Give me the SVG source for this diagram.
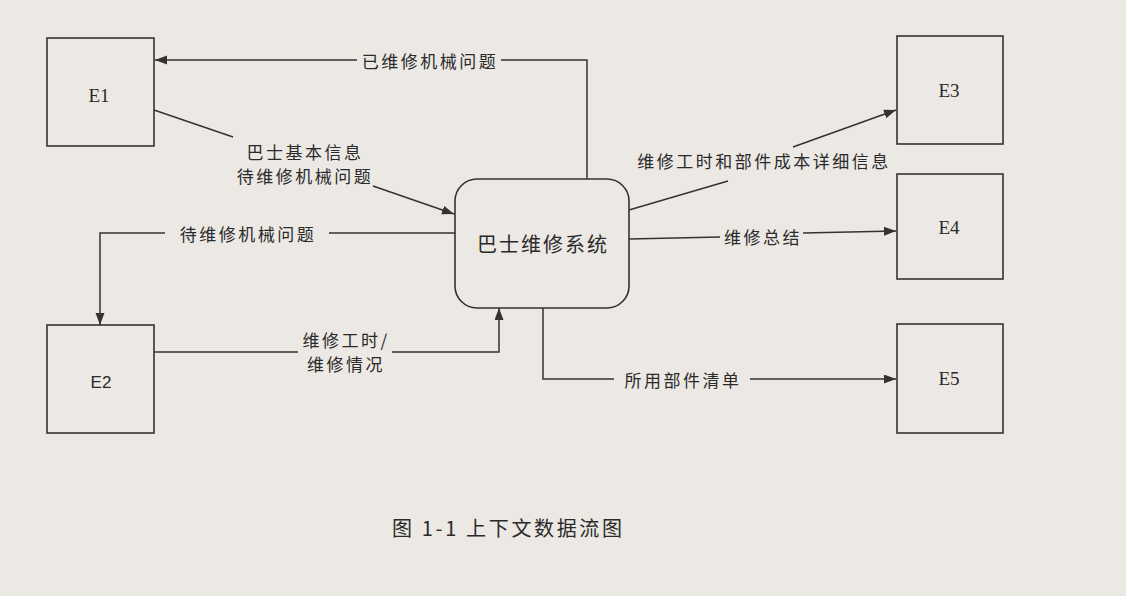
<svg xmlns="http://www.w3.org/2000/svg" width="1126" height="596" viewBox="0 0 1126 596">
  <style>
    .box { fill: none; stroke: #333; stroke-width: 1.6; }
    .conn { fill: none; stroke: #333; stroke-width: 1.5; }
    .lbl { font-family: "Noto Sans CJK SC", "Liberation Sans", sans-serif; font-size: 17px; fill: #2a2a2a; text-anchor: middle; letter-spacing: 2.5px; dominant-baseline: central; }
    .ent { font-family: "Liberation Serif", serif; font-size: 19px; fill: #2a2a2a; text-anchor: middle; dominant-baseline: central; }
    .ents { font-family: "Liberation Sans", sans-serif; font-size: 17px; fill: #2a2a2a; text-anchor: middle; dominant-baseline: central; }
    .proc { font-family: "Noto Sans CJK SC", "Liberation Sans", sans-serif; font-size: 20px; fill: #2a2a2a; text-anchor: middle; letter-spacing: 2px; dominant-baseline: central; }
    .cap { font-family: "Noto Sans CJK SC", "Liberation Serif", serif; font-size: 20px; fill: #2a2a2a; text-anchor: middle; dominant-baseline: central; }
  </style>
  <defs>
    <marker id="arr" markerUnits="userSpaceOnUse" markerWidth="13" markerHeight="10" refX="12" refY="4.5" orient="auto">
      <path d="M0,0 L12,4.5 L0,9 z" fill="#333"/>
    </marker>
  </defs>
  <rect x="0" y="0" width="1126" height="596" fill="#ece8e4"/>

  <g id="E1">
    <rect class="box" x="47" y="38" width="107" height="108"/>
    <text class="ent" x="99" y="95">E1</text>
  </g>
  <g id="E2">
    <rect class="box" x="47" y="325" width="107" height="108"/>
    <text class="ents" x="101" y="382">E2</text>
  </g>
  <g id="E3">
    <rect class="box" x="897" y="36" width="106" height="108"/>
    <text class="ent" x="949" y="90">E3</text>
  </g>
  <g id="E4">
    <rect class="box" x="897" y="174" width="106" height="105"/>
    <text class="ent" x="949" y="227">E4</text>
  </g>
  <g id="E5">
    <rect class="box" x="897" y="324" width="106" height="109"/>
    <text class="ent" x="949" y="378">E5</text>
  </g>
  <g id="P0">
    <rect class="box" x="455" y="179" width="174" height="129" rx="22" ry="22"/>
    <text class="proc" x="543" y="243">巴士维修系统</text>
  </g>

  <g id="connectors">
    <path class="conn" d="M587,179 V60 H501"/>
    <path class="conn" d="M357,60 H155" marker-end="url(#arr)"/>
    <text class="lbl" x="430" y="60">已维修机械问题</text>

    <path class="conn" d="M154,110 L233,137"/>
    <path class="conn" d="M373,186 L454,214" marker-end="url(#arr)"/>
    <text class="lbl" x="305" y="151">巴士基本信息</text>
    <text class="lbl" x="305" y="175">待维修机械问题</text>

    <path class="conn" d="M455,233 H329"/>
    <path class="conn" d="M165,233 H100 V325" marker-end="url(#arr)"/>
    <text class="lbl" x="248" y="233">待维修机械问题</text>

    <path class="conn" d="M154,352 H298"/>
    <path class="conn" d="M392,352 H499 V308" marker-end="url(#arr)"/>
    <text class="lbl" x="346" y="339">维修工时/</text>
    <text class="lbl" x="346" y="363">维修情况</text>

    <path class="conn" d="M629,210 L728,181"/>
    <path class="conn" d="M793,147 L896,110" marker-end="url(#arr)"/>
    <text class="lbl" x="764" y="160">维修工时和部件成本详细信息</text>

    <path class="conn" d="M629,239 L720,237"/>
    <path class="conn" d="M803,233 L896,231" marker-end="url(#arr)"/>
    <text class="lbl" x="763" y="236">维修总结</text>

    <path class="conn" d="M543,308 V379 H614"/>
    <path class="conn" d="M750,379 H896" marker-end="url(#arr)"/>
    <text class="lbl" x="683" y="379">所用部件清单</text>
  </g>

  <text class="cap" x="507" y="527" textLength="230" lengthAdjust="spacing">图 1-1 上下文数据流图</text>
</svg>
